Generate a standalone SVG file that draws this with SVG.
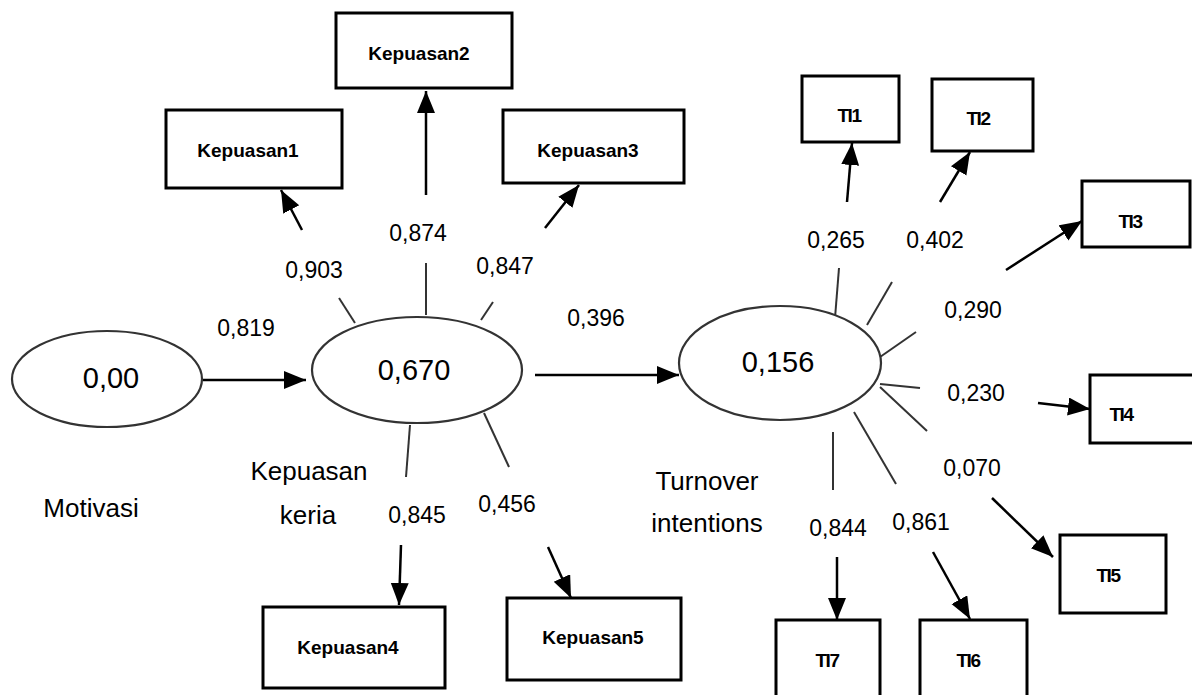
<svg xmlns="http://www.w3.org/2000/svg" width="1192" height="695" viewBox="0 0 1192 695">
<defs>
<marker id="ah" markerUnits="userSpaceOnUse" markerWidth="24" markerHeight="20" refX="22" refY="9" orient="auto"><path d="M0,0 L22,9 L0,18 z" fill="#000"/></marker>
<style>
.box{fill:#fff;stroke:#000;stroke-width:3}
.ell{fill:#fff;stroke:#333;stroke-width:2.2}
.bl{font-family:"Liberation Sans",Arial,sans-serif;font-size:19px;font-weight:bold;fill:#000;text-anchor:middle;dominant-baseline:central}
.ti{letter-spacing:-1.5px}
.num{font-family:"Liberation Sans",Arial,sans-serif;font-size:23px;fill:#000;text-anchor:middle;dominant-baseline:central}
.big{font-family:"Liberation Sans",Arial,sans-serif;font-size:29px;fill:#000;text-anchor:middle;dominant-baseline:central}
.lab{font-family:"Liberation Sans",Arial,sans-serif;font-size:26px;fill:#000;text-anchor:middle;dominant-baseline:central}
.arr{stroke:#000;stroke-width:2.5;fill:none;marker-end:url(#ah)}
.sp{stroke:#333;stroke-width:2;fill:none}
</style>
</defs>
<rect width="1192" height="695" fill="#fff"/>
<g id="connectors">
<line class="arr" x1="203" y1="380" x2="306" y2="380"/>
<line class="arr" x1="535" y1="375" x2="679" y2="375"/>
<line class="sp" x1="339" y1="298" x2="355" y2="323"/>
<line class="arr" x1="302" y1="230" x2="281" y2="190"/>
<line class="sp" x1="426" y1="263" x2="426" y2="315"/>
<line class="arr" x1="426" y1="195" x2="426" y2="91"/>
<line class="sp" x1="493" y1="302" x2="481" y2="320"/>
<line class="arr" x1="545" y1="228" x2="579" y2="185"/>
<line class="sp" x1="410" y1="425" x2="406" y2="477"/>
<line class="arr" x1="401" y1="545" x2="399" y2="605"/>
<line class="sp" x1="484" y1="413" x2="509" y2="467"/>
<line class="arr" x1="548" y1="547" x2="571" y2="598"/>
<line class="sp" x1="839" y1="268" x2="835" y2="318"/>
<line class="arr" x1="847" y1="202" x2="852" y2="143"/>
<line class="sp" x1="892" y1="282" x2="867" y2="325"/>
<line class="arr" x1="940" y1="202" x2="970" y2="152"/>
<line class="sp" x1="916" y1="332" x2="880" y2="357"/>
<line class="arr" x1="1006" y1="270" x2="1082" y2="221"/>
<line class="sp" x1="880" y1="384" x2="920" y2="388"/>
<line class="arr" x1="1038" y1="403" x2="1090" y2="409"/>
<line class="sp" x1="880" y1="387" x2="927" y2="431"/>
<line class="arr" x1="992" y1="498" x2="1053" y2="557"/>
<line class="sp" x1="854" y1="412" x2="896" y2="484"/>
<line class="arr" x1="933" y1="552" x2="970" y2="619"/>
<line class="sp" x1="833" y1="432" x2="833" y2="490"/>
<line class="arr" x1="837" y1="557" x2="837" y2="620"/>
</g>
<g id="motivasi"><ellipse class="ell" cx="107" cy="379" rx="95" ry="48"/><text class="big" x="111" y="378">0,00</text><text class="lab" x="91" y="508">Motivasi</text></g>
<g id="kepuasan-kerja"><ellipse class="ell" cx="417" cy="370" rx="105" ry="53"/><text class="big" x="414" y="370">0,670</text><text class="lab" x="309" y="471">Kepuasan</text><text class="lab" x="308" y="515">keria</text></g>
<g id="turnover"><ellipse class="ell" cx="780" cy="363" rx="101" ry="57"/><text class="big" x="778" y="362">0,156</text><text class="lab" x="707" y="481">Turnover</text><text class="lab" x="707" y="523">intentions</text></g>
<g id="kepuasan1"><rect class="box" x="166" y="110" width="176" height="78"/><text class="bl" x="248" y="150">Kepuasan1</text></g>
<g id="kepuasan2"><rect class="box" x="336" y="13" width="176" height="75"/><text class="bl" x="419" y="53">Kepuasan2</text></g>
<g id="kepuasan3"><rect class="box" x="503" y="110" width="181" height="73"/><text class="bl" x="588" y="150">Kepuasan3</text></g>
<g id="kepuasan4"><rect class="box" x="263" y="607" width="182" height="81"/><text class="bl" x="348" y="647">Kepuasan4</text></g>
<g id="kepuasan5"><rect class="box" x="507" y="598" width="174" height="82"/><text class="bl" x="593" y="637">Kepuasan5</text></g>
<g id="ti1"><rect class="box" x="802" y="76" width="97" height="66"/><text class="bl ti" x="849" y="115">TI1</text></g>
<g id="ti2"><rect class="box" x="932" y="79" width="101" height="72"/><text class="bl ti" x="978" y="118">TI2</text></g>
<g id="ti3"><rect class="box" x="1082" y="181" width="108" height="66"/><text class="bl ti" x="1130" y="221">TI3</text></g>
<g id="ti4"><rect class="box" x="1090" y="375" width="104" height="68"/><text class="bl ti" x="1121" y="414">TI4</text></g>
<g id="ti5"><rect class="box" x="1060" y="535" width="106" height="78"/><text class="bl ti" x="1108" y="575">TI5</text></g>
<g id="ti6"><rect class="box" x="920" y="620" width="107" height="80"/><text class="bl ti" x="968" y="660">TI6</text></g>
<g id="ti7"><rect class="box" x="776" y="620" width="104" height="80"/><text class="bl ti" x="827" y="660">TI7</text></g>
<g id="labels">
<text class="num" x="246" y="328">0,819</text>
<text class="num" x="314" y="270">0,903</text>
<text class="num" x="418" y="233">0,874</text>
<text class="num" x="505" y="266">0,847</text>
<text class="num" x="596" y="318">0,396</text>
<text class="num" x="417" y="515">0,845</text>
<text class="num" x="507" y="504">0,456</text>
<text class="num" x="836" y="240">0,265</text>
<text class="num" x="935" y="240">0,402</text>
<text class="num" x="973" y="310">0,290</text>
<text class="num" x="976" y="393">0,230</text>
<text class="num" x="972" y="468">0,070</text>
<text class="num" x="838" y="528">0,844</text>
<text class="num" x="921" y="522">0,861</text>
</g>
</svg>
